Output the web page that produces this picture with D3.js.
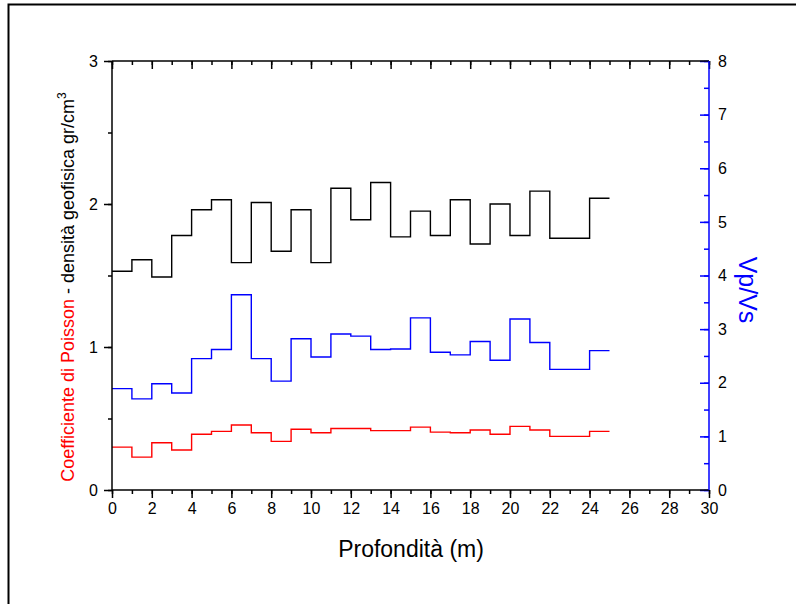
<!DOCTYPE html>
<html>
<head>
<meta charset="utf-8">
<script src="https://cdn.jsdelivr.net/npm/d3@7"></script>
<style>
  html, body { margin: 0; padding: 0; background: #fff; }
  svg { display: block; }
  text { font-family: "Liberation Sans", Arial, sans-serif; }
</style>
</head>
<body>
<svg id="chart" width="796" height="604"></svg>
<script>
// Layer boundaries (m): each layer runs from depthTop[i] to depthTop[i+1]
const depthTop = [0, 1, 2, 3, 4, 5, 6, 7, 8, 9, 10, 11, 12, 13, 14, 15, 16, 17, 18, 19, 20, 21, 22, 23, 24, 25];

// Densità geofisica (gr/cm3), one value per layer
const density = [1.53, 1.61, 1.49, 1.78, 1.96, 2.03, 1.59, 2.01, 1.67, 1.96, 1.59, 2.11, 1.89, 2.15, 1.77, 1.95, 1.78, 2.03, 1.72, 2.00, 1.78, 2.09, 1.76, 1.76, 2.04];

// Coefficiente di Poisson, one value per layer
const poisson = [0.30, 0.23, 0.33, 0.28, 0.39, 0.41, 0.455, 0.40, 0.34, 0.425, 0.40, 0.43, 0.43, 0.415, 0.415, 0.44, 0.405, 0.40, 0.42, 0.39, 0.445, 0.42, 0.375, 0.375, 0.41];

// Rapporto Vp/Vs, one value per layer
const vpvs = [1.89, 1.70, 1.98, 1.81, 2.45, 2.62, 3.64, 2.45, 2.03, 2.82, 2.48, 2.91, 2.87, 2.62, 2.63, 3.21, 2.57, 2.52, 2.77, 2.42, 3.19, 2.75, 2.25, 2.25, 2.60];

const xTicks = [0, 2, 4, 6, 8, 10, 12, 14, 16, 18, 20, 22, 24, 26, 28, 30];
const leftTicks = [0, 1, 2, 3];
const rightTicks = [0, 1, 2, 3, 4, 5, 6, 7, 8];

const svg = d3.select("#chart");
const plot = { left: 112, right: 709, top: 61, bottom: 490 };

const x = d3.scaleLinear().domain([0, 30]).range([plot.left, plot.right]);
const yL = d3.scaleLinear().domain([0, 3]).range([plot.bottom, plot.top]);
const yR = d3.scaleLinear().domain([0, 8]).range([plot.bottom, plot.top]);

const BLUE = "#0000ff", RED = "#ff0000";
const TICK_FONT = 16;

// page frame
svg.append("path")
  .attr("d", "M8.5,604 V4.5 H796")
  .attr("fill", "none").attr("stroke", "#000").attr("stroke-width", 2);

// step series: the last layer value is repeated at its bottom depth
function steps(values) {
  return depthTop.map((d, i) => [d, values[Math.min(i, values.length - 1)]]);
}
function drawSeries(values, yScale, color) {
  const line = d3.line()
    .x(d => x(d[0])).y(d => yScale(d[1]))
    .curve(d3.curveStepAfter);
  svg.append("path")
    .datum(steps(values))
    .attr("d", line)
    .attr("fill", "none")
    .attr("stroke", color)
    .attr("stroke-width", 1.4);
}

drawSeries(density, yL, "#000");
drawSeries(vpvs, yR, BLUE);
drawSeries(poisson, yL, RED);

function styleAxis(g, color) {
  g.selectAll(".domain").remove();
  g.selectAll("line").attr("stroke", color).attr("stroke-width", 1.5);
  g.selectAll("text").attr("fill", "#000").attr("font-size", TICK_FONT);
}

// bottom axis: minor ticks every 1 m, labelled major ticks every 2 m
svg.append("g").attr("transform", `translate(0,${plot.bottom})`)
  .call(d3.axisBottom(x).tickValues(d3.range(0, 31, 1)).tickSize(4).tickFormat(""))
  .call(g => styleAxis(g, "#000"));
svg.append("g").attr("transform", `translate(0,${plot.bottom})`)
  .call(d3.axisBottom(x).tickValues(xTicks).tickSize(8).tickPadding(5).tickFormat(d3.format("d")))
  .call(g => styleAxis(g, "#000"));

// top axis: inward ticks, no labels
svg.append("g").attr("transform", `translate(0,${plot.top})`)
  .call(d3.axisTop(x).tickValues(d3.range(0, 31, 1)).tickSize(-4).tickFormat(""))
  .call(g => styleAxis(g, "#000"));
svg.append("g").attr("transform", `translate(0,${plot.top})`)
  .call(d3.axisTop(x).tickValues(xTicks).tickSize(-8).tickFormat(""))
  .call(g => styleAxis(g, "#000"));

// left axis
svg.append("g").attr("transform", `translate(${plot.left},0)`)
  .call(d3.axisLeft(yL).tickValues(d3.range(0, 3.01, 0.5)).tickSize(4).tickFormat(""))
  .call(g => styleAxis(g, "#000"));
svg.append("g").attr("transform", `translate(${plot.left},0)`)
  .call(d3.axisLeft(yL).tickValues(leftTicks).tickSize(8).tickPadding(6).tickFormat(d3.format("d")))
  .call(g => styleAxis(g, "#000"));

// right axis (blue): ticks point into the plot, labels outside
svg.append("g").attr("transform", `translate(${plot.right},0)`)
  .call(d3.axisRight(yR).tickValues(d3.range(0, 8.01, 0.5)).tickSize(-5).tickFormat(""))
  .call(g => styleAxis(g, BLUE));
svg.append("g").attr("transform", `translate(${plot.right},0)`)
  .call(d3.axisRight(yR).tickValues(rightTicks).tickSize(-9).tickPadding(9).tickFormat(d3.format("d")))
  .call(g => styleAxis(g, BLUE));

// axis lines
svg.append("line").attr("x1", plot.left).attr("x2", plot.right).attr("y1", plot.top).attr("y2", plot.top)
  .attr("stroke", "#000").attr("stroke-width", 1.5);
svg.append("line").attr("x1", plot.left).attr("x2", plot.right).attr("y1", plot.bottom).attr("y2", plot.bottom)
  .attr("stroke", "#000").attr("stroke-width", 1.5);
svg.append("line").attr("x1", plot.left).attr("x2", plot.left).attr("y1", plot.top).attr("y2", plot.bottom)
  .attr("stroke", "#000").attr("stroke-width", 1.5);
svg.append("line").attr("x1", plot.right).attr("x2", plot.right).attr("y1", plot.top).attr("y2", plot.bottom)
  .attr("stroke", BLUE).attr("stroke-width", 1.5);

// axis titles
svg.append("text")
  .attr("x", 411).attr("y", 557)
  .attr("text-anchor", "middle").attr("font-size", 23).attr("fill", "#000")
  .text("Profondità (m)");

const leftTitle = svg.append("text")
  .attr("transform", "translate(74,287) rotate(-90)")
  .attr("text-anchor", "middle").attr("font-size", 18);
leftTitle.append("tspan").attr("fill", RED).text("Coefficiente di Poisson");
leftTitle.append("tspan").attr("fill", "#000").text("  - densità geofisica gr/cm");
leftTitle.append("tspan").attr("fill", "#000").attr("font-size", 12).attr("dy", -8).text("3");

svg.append("text")
  .attr("transform", "translate(739,290) rotate(90)")
  .attr("text-anchor", "middle").attr("font-size", 25).attr("fill", BLUE)
  .text("Vp/Vs");
</script>
</body>
</html>
